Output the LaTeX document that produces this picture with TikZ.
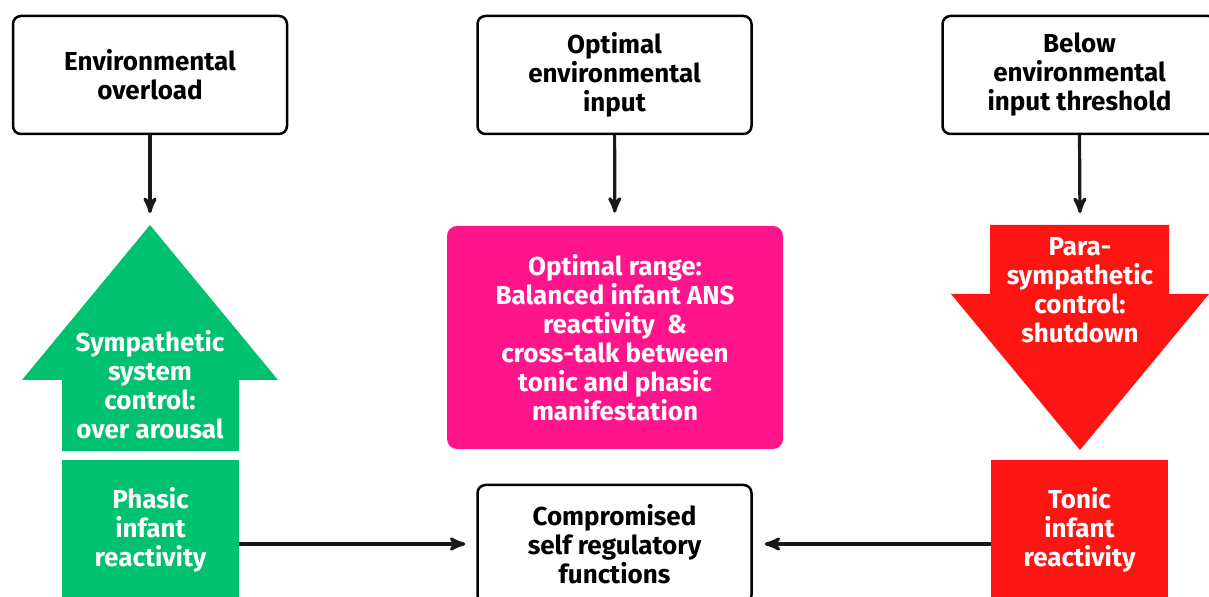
\documentclass[tikz,border=0pt]{standalone}
\usepackage{fontspec}
\setmainfont{Fira Sans}
\usetikzlibrary{arrows}
\definecolor{symgreen}{RGB}{0,193,110}
\definecolor{rangepink}{RGB}{255,20,140}
\definecolor{parared}{RGB}{255,20,20}

\begin{document}
\begin{tikzpicture}[x=0.5pt,y=-0.5pt,
every node/.style={align=center,
font=\bfseries\fontsize{13}{14.5}\selectfont
},
input/.style={%
draw,line width=1.25pt,
rounded corners=4pt,
minimum width=137pt,
minimum height=59pt
},
react/.style={%
fill,text=white,
minimum width=88.5pt,
minimum height=70pt
},
link/.style={%
-{stealth'},line width=1.6pt,draw=black!90
}]
\clip (0,0) rectangle (1209,597);
\node[input]at(150,75)(ovl){Environmental\\overload};
\node[input]at(614.5,75)(opt){Optimal\\environmental\\input};
\node[input]at(1079.5,75)(low){Below\\environmental\\input threshold};
\node[input]at(614.5,544)(comp){Compromised\\self regulatory\\functions};
% block arrows
\fill[symgreen] (150,225)--(278,380)--(239,380)--(239,451)--(62,451)--(62,380)--(22,380)--cycle;
\fill[parared] (990,225)--(1169,225)--(1169,294)--(1209,294)--(1080,450)--(951,294)--(990,294)--cycle;
\coordinate (symtip) at (150,225);
\coordinate (paratop) at (1080,225);
\node[text=white]at(150,385)(sym){Sympathetic\\system\\control:\\over arousal};
\node[text=white]at(1080,290)(para){Para-\\sympathetic\\control:\\shutdown};
\node[fill=rangepink,text=white,rounded corners=5pt,minimum width=168pt,minimum height=111.5pt]at(615,337.5)(range){Optimal range:\\Balanced infant ANS\\reactivity~~\&\\cross-talk between\\tonic and phasic\\manifestation};
\node[react,fill=symgreen]at(150.5,530)(phasic){Phasic\\infant\\reactivity};
\node[react,fill=parared]at(1079.5,530)(tonic){Tonic\\infant\\reactivity};
\draw [link,shorten >=6pt] (ovl)--(symtip);
\draw [link,shorten >=6.5pt] (opt)--(range);
\draw [link,shorten >=6pt] (low.south)--(paratop);
\draw [link,shorten >=5.5pt] (phasic.east|-comp)--(comp);
\draw [link,shorten >=6pt] (tonic.west|-comp)--(comp);
\end{tikzpicture}
\end{document}
